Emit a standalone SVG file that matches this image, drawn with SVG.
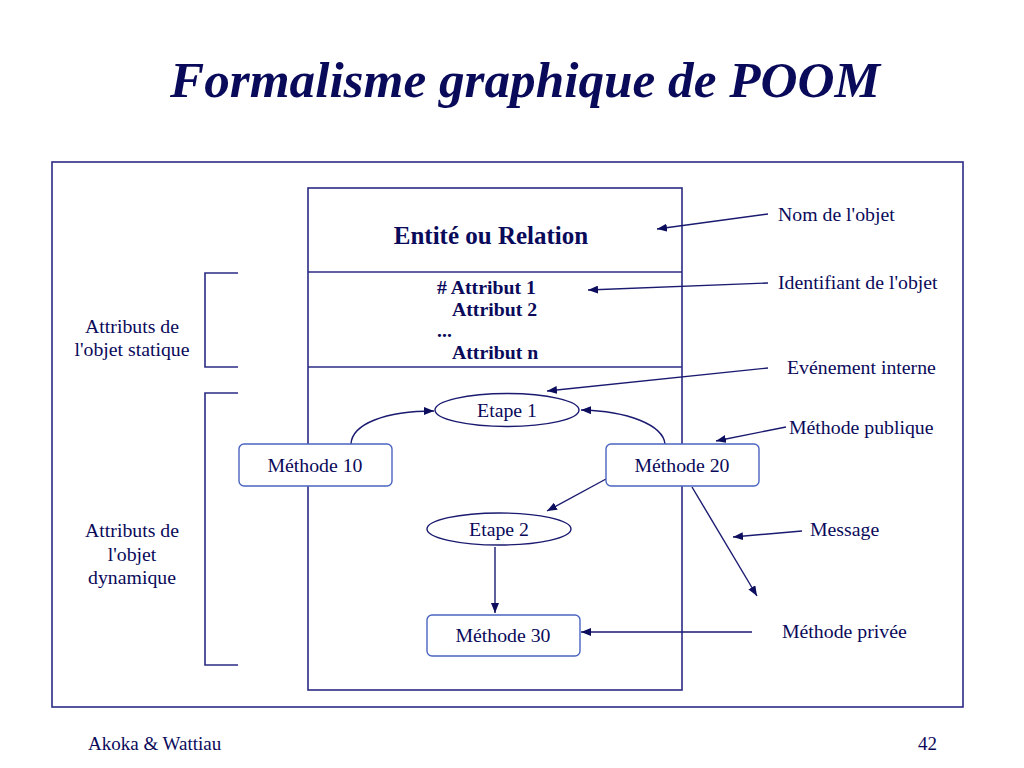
<svg xmlns="http://www.w3.org/2000/svg" width="1024" height="768" viewBox="0 0 1024 768">
<defs>
<marker id="ah" viewBox="0 0 10 8" refX="10" refY="4" markerWidth="10" markerHeight="8" markerUnits="userSpaceOnUse" orient="auto">
<path d="M0,0 L10,4 L0,8 z" fill="#0d0d5e"/>
</marker>
<style>
text{font-family:"Liberation Serif","Times New Roman",serif;fill:#0a0a5a}
.lbl{font-size:19.8px}
.b{font-weight:bold}
.frame{fill:none;stroke:#2b2b85;stroke-width:1.6}
.node{fill:#fff;stroke:#4a64c0;stroke-width:1.4}
.ell{fill:#fff;stroke:#1a1a70;stroke-width:1.4}
.con{fill:none;stroke:#1a1a70;stroke-width:1.4;marker-end:url(#ah)}
</style>
</defs>
<rect width="1024" height="768" fill="#fff"/>
<text x="170" y="97" font-size="50" font-weight="bold" font-style="italic" textLength="710" lengthAdjust="spacingAndGlyphs">Formalisme graphique de POOM</text>
<rect class="frame" x="52" y="162" width="911" height="545"/>
<g id="object">
<rect class="frame" x="308" y="188" width="374" height="502"/>
<line class="frame" x1="308" y1="272" x2="682" y2="272"/>
<line class="frame" x1="308" y1="367" x2="682" y2="367"/>
<text x="491" y="244" font-size="25" class="b" text-anchor="middle">Entité ou Relation</text>
<text x="437" y="294" font-size="19.8" class="b"># Attribut 1</text>
<text x="452" y="316" font-size="19.8" class="b">Attribut 2</text>
<text x="437" y="337" font-size="19.8" class="b">...</text>
<text x="452" y="359" font-size="19.8" class="b">Attribut n</text>
</g>
<g id="brackets">
<path class="frame" d="M238,273 H205 V367 H238"/>
<path class="frame" d="M238,393 H205 V665 H238"/>
<text class="lbl" x="132" y="333" text-anchor="middle">Attributs de</text>
<text class="lbl" x="132" y="356" text-anchor="middle">l'objet statique</text>
<text class="lbl" x="132" y="537" text-anchor="middle">Attributs de</text>
<text class="lbl" x="132" y="561" text-anchor="middle">l'objet</text>
<text class="lbl" x="132" y="584" text-anchor="middle">dynamique</text>
</g>
<g id="connectors">
<path class="con" d="M351,444 C352,424 385,411 434,411"/>
<path class="con" d="M665,444 C663,425 628,411 581,410"/>
<path class="con" d="M606,479 L547,511"/>
<path class="con" d="M495,547 L495,613"/>
<path class="con" d="M692,487 L757,596"/>
<path class="con" d="M768,214 L657,229"/>
<path class="con" d="M768,283 L588,290"/>
<path class="con" d="M768,368 L547,391"/>
<path class="con" d="M786,427 L716,441"/>
<path class="con" d="M802,531 L733,537"/>
<path class="con" d="M752,632 L581,632"/>
</g>
<g id="etape1">
<ellipse class="ell" cx="507" cy="410" rx="72" ry="16.5"/>
<text class="lbl" x="507" y="417" text-anchor="middle">Etape 1</text>
</g>
<g id="etape2">
<ellipse class="ell" cx="499" cy="529" rx="72" ry="16"/>
<text class="lbl" x="499" y="536" text-anchor="middle">Etape 2</text>
</g>
<g id="methode10">
<rect class="node" x="239" y="444" width="153" height="42" rx="5"/>
<text class="lbl" x="315" y="472" text-anchor="middle">Méthode 10</text>
</g>
<g id="methode20">
<rect class="node" x="606" y="444" width="153" height="42" rx="5"/>
<text class="lbl" x="682" y="472" text-anchor="middle">Méthode 20</text>
</g>
<g id="methode30">
<rect class="node" x="427" y="615" width="153" height="41" rx="5"/>
<text class="lbl" x="503" y="642" text-anchor="middle">Méthode 30</text>
</g>
<g id="labels">
<text class="lbl" x="778" y="221">Nom de l'objet</text>
<text class="lbl" x="778" y="289">Identifiant de l'objet</text>
<text class="lbl" x="787" y="374">Evénement interne</text>
<text class="lbl" x="789" y="434">Méthode publique</text>
<text class="lbl" x="810" y="536">Message</text>
<text class="lbl" x="782" y="638">Méthode privée</text>
</g>
<text x="88" y="750" font-size="19">Akoka &amp; Wattiau</text>
<text x="937" y="750" font-size="19" text-anchor="end">42</text>
</svg>
